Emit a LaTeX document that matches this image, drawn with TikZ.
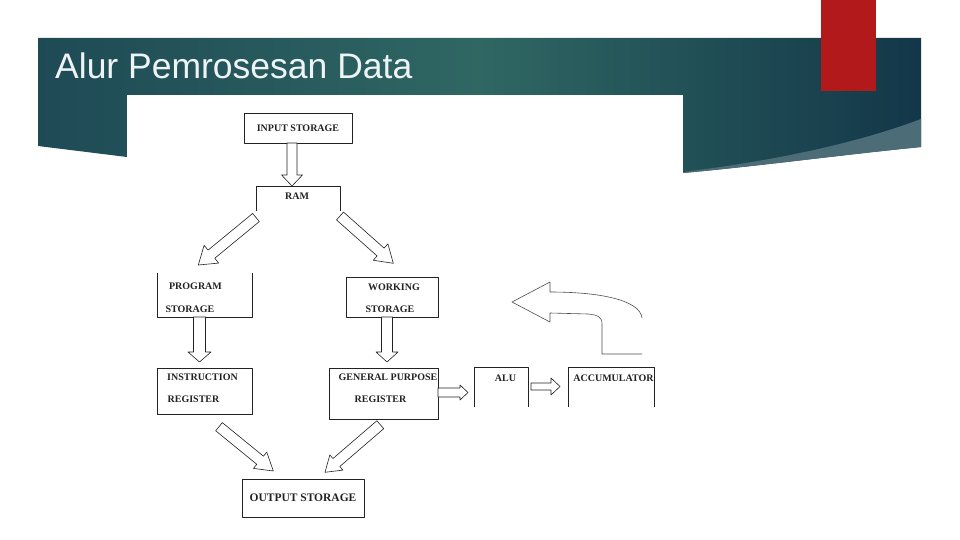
\documentclass[tikz,border=0pt]{standalone}
\usepackage{fontspec}
\setmainfont{Liberation Serif}
\newfontfamily\titlefont{Liberation Sans}
\usetikzlibrary{calc}

\definecolor{bannerleft}{HTML}{1E4A55}
\definecolor{bannermid}{HTML}{2F6763}
\definecolor{bannerdark}{HTML}{133749}
\definecolor{bandgray}{HTML}{4C6C78}
\definecolor{slidered}{HTML}{B2191B}
\definecolor{titlewhite}{HTML}{EEF4F6}
\definecolor{scanink}{HTML}{222222}

% hollow block arrow: tail, tip, shaft half width, head half width, head length
\newcommand{\blockarrow}[5]{%
  \draw[blockline] ($(#1)!#3!90:(#2)$) -- ($(#2)!#5!(#1)!#3!-90:(#1)$)
    -- ($(#2)!#5!(#1)!#4!-90:(#1)$) -- (#2) -- ($(#2)!#5!(#1)!#4!90:(#1)$)
    -- ($(#2)!#5!(#1)!#3!90:(#1)$) -- ($(#1)!#3!-90:(#2)$) -- cycle;}

\begin{document}
\begin{tikzpicture}[x=1pt, y=-1pt, line join=round,
    box/.style={rectangle, inner sep=0pt, outer sep=0pt, draw=scanink, line width=0.8pt,
      text=scanink, font=\bfseries\fontsize{10}{12}\selectfont},
    openbox/.style={box, draw=none},
    lbl/.style={inner sep=0pt, text=scanink, font=\bfseries\fontsize{10}{12}\selectfont},
    blockline/.style={draw=scanink, line width=0.6pt, fill=white}]
  \useasboundingbox (0,0) rectangle (960,540);
  \fill[white] (0,0) rectangle (960,540);

  % slide banner
  \shade[left color=bannerleft, right color=bannerdark, middle color=bannermid]
    (38,38) -- (921,38) -- (921,147) .. controls (840,155) and (760,166) .. (683,173)
    -- (127,157) -- (38,146) -- cycle;
  \fill[bandgray] (921,119) .. controls (860,142) and (780,160) .. (683,172)
    -- (683,173) .. controls (760,166) and (840,155) .. (921,147) -- cycle;
  \fill[slidered] (821,0) rectangle (876,91);
  \fill[white] (127,95) rectangle (683,540);
  \node[anchor=base west, inner sep=0pt, text=titlewhite,
    font=\titlefont\fontsize{35.5}{40}\selectfont] (title) at (55,79) {Alur Pemrosesan Data};

  % boxes
  \node[box, minimum width=108pt, minimum height=30pt] (input) at (298,128) {INPUT STORAGE};
  \node[openbox, minimum width=84pt, minimum height=25pt] (ram) at (298,198.5) {};
  \node[lbl] (ramlbl) at (297,196) {RAM};
  \draw[scanink, line width=0.8pt] (ram.south west) -- (ram.north west) -- (ram.north east) -- (ram.south east);
  \node[openbox, minimum width=95pt, minimum height=44pt] (prog) at (204.5,295) {};
  \draw[scanink, line width=0.8pt] (prog.north west) -- (prog.south west) -- (prog.south east) -- (prog.north east);
  \node[lbl] (proglbla) at (195.5,286) {PROGRAM};
  \node[lbl] (proglblb) at (190,309) {STORAGE};
  \node[box, minimum width=92pt, minimum height=40pt] (work) at (392,297) {};
  \node[lbl] (worklbla) at (394,287) {WORKING};
  \node[lbl] (worklblb) at (390,309) {STORAGE};
  \node[box, minimum width=95pt, minimum height=46pt] (instr) at (204.5,391) {};
  \node[lbl] (instrlbla) at (202.5,377) {INSTRUCTION};
  \node[lbl] (instrlblb) at (193.5,399) {REGISTER};
  \node[box, minimum width=109pt, minimum height=51pt] (gen) at (383.5,393.5) {};
  \node[lbl] (genlbla) at (388,377) {GENERAL PURPOSE};
  \node[lbl] (genlblb) at (380.5,399) {REGISTER};
  \node[box, minimum width=122pt, minimum height=38pt,
    font=\bfseries\fontsize{11.5}{13}\selectfont] (output) at (303,498) {OUTPUT STORAGE};
  \node[openbox, minimum width=54pt, minimum height=40pt] (alu) at (501,387) {};
  \draw[scanink, line width=0.8pt] (alu.south west) -- (alu.north west) -- (alu.north east) -- (alu.south east);
  \node[lbl] (alulbl) at (505.5,378) {ALU};
  \node[openbox, minimum width=86pt, minimum height=40pt] (acc) at (611,387) {};
  \draw[scanink, line width=0.8pt] (acc.south west) -- (acc.north west) -- (acc.north east) -- (acc.south east);
  \node[lbl] (acclbl) at (613.5,378) {ACCUMULATOR};

  % arrow ends
  \coordinate (inout) at (292,143);    \coordinate (ramin) at (292,186);
  \coordinate (ramoutl) at (256,217.5); \coordinate (progin) at (198.3,265);
  \coordinate (ramoutr) at (340,216);   \coordinate (workin) at (393.3,263.3);
  \coordinate (progout) at (199.5,317); \coordinate (instrin) at (199.5,362);
  \coordinate (workout) at (387,317);   \coordinate (genin) at (387,362);
  \coordinate (instrout) at (219,426.7); \coordinate (outinl) at (273.3,471);
  \coordinate (genout) at (380.3,424.7); \coordinate (outinr) at (325,472.3);
  \coordinate (genright) at (438,392.5); \coordinate (aluin) at (468,392.5);
  \coordinate (aluout) at (531,386.5);  \coordinate (accin) at (560,386.5);

  % block arrows
  \blockarrow{inout}{ramin}{5pt}{10.5pt}{11pt}
  \blockarrow{ramoutl}{progin}{5.25pt}{11.5pt}{17pt}
  \blockarrow{ramoutr}{workin}{5.25pt}{11pt}{17pt}
  \blockarrow{progout}{instrin}{6pt}{11.5pt}{10pt}
  \blockarrow{workout}{genin}{5.5pt}{11pt}{10pt}
  \blockarrow{instrout}{outinl}{5.25pt}{10.5pt}{17pt}
  \blockarrow{genout}{outinr}{5.25pt}{10pt}{15pt}
  \blockarrow{genright}{aluin}{4.5pt}{7.5pt}{8pt}
  \blockarrow{aluout}{accin}{3.5pt}{8.5pt}{9pt}

  % return arrow above the accumulator
  \draw[draw=scanink!80, line width=0.6pt] (642,318) .. controls (640,300) and (600,292) .. (550,292)
    -- (550,282) -- (512,302) -- (550,322) -- (550,313) -- (588,314)
    .. controls (598,315) and (602,317) .. (602,324) -- (602,354) -- (642,354);
\end{tikzpicture}
\end{document}
